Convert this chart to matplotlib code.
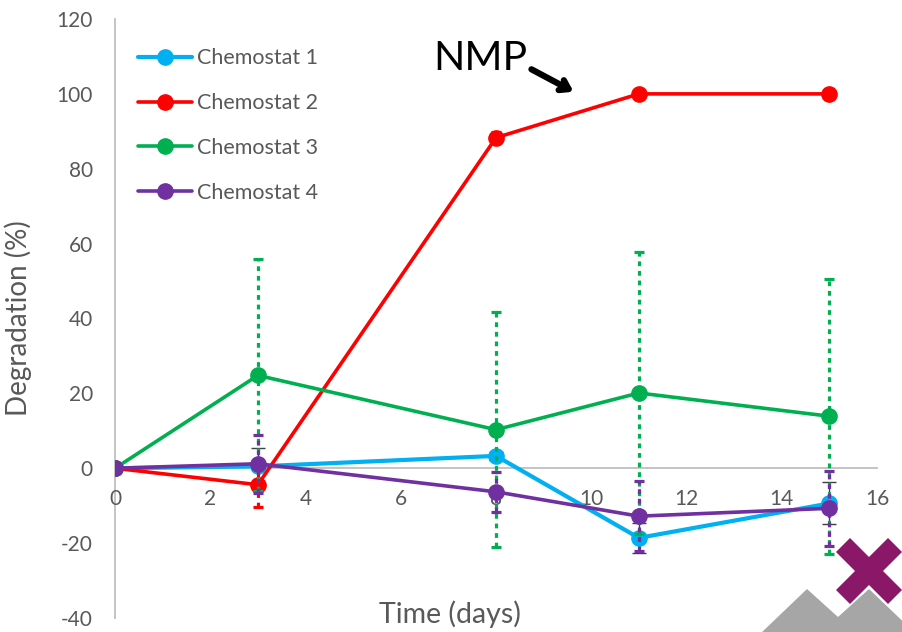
import matplotlib
matplotlib.use("Agg")
import matplotlib.pyplot as plt
from matplotlib.patches import Polygon
from matplotlib import patheffects as pe

plt.rcParams['font.family'] = ['Lato', 'DejaVu Sans']
plt.rcParams['axes.unicode_minus'] = False

# Sampling days
days = [0, 3, 8, 11, 15]

# Degradation (%) per chemostat
chemo1 = [0, 0.5, 3.3, -18.6, -9.4]
chemo2 = [0, -4.4, 88.3, 100, 100]
chemo3 = [0, 24.8, 10.3, 20.1, 13.9]
chemo4 = [0, 1.2, -6.3, -12.8, -10.7]

# Error (+/-) per chemostat
err1 = [0, 4.8, 1.0, 4.0, 5.6]
err2 = [0, 5.9, 1.5, 0, 0]
err3 = [0, 31.0, 31.4, 37.6, 36.7]
err4 = [0, 7.7, 5.3, 9.3, 10.0]

labels = ["Chemostat 1", "Chemostat 2", "Chemostat 3", "Chemostat 4"]
colors = ["#00B0F0", "#FF0000", "#00B050", "#7030A0"]

x_ticks = list(range(0, 17, 2))
y_ticks = list(range(-40, 121, 20))

W, H = 902, 632
fig = plt.figure(figsize=(W / 100, H / 100), dpi=100)
ax = fig.add_axes([115 / W, 1 - 618 / H, 762 / W, 599 / H])

series = [(chemo1, err1), (chemo2, err2), (chemo3, err3), (chemo4, err4)]
handles = []
for i, ((vals, errs), col, lab) in enumerate(zip(series, colors, labels)):
    z = 3 + i
    if i == 0:
        eb = ax.errorbar(days, vals, yerr=errs, fmt='none', ecolor='#404040',
                         elinewidth=1.0, capsize=5, capthick=1.0, zorder=z)
    else:
        eb = ax.errorbar(days, vals, yerr=errs, fmt='none', ecolor=col,
                         elinewidth=2.3, capsize=3.5, capthick=2.3, zorder=z)
        for lc in eb[2]:
            lc.set_linestyle((0, (1.5, 1.5)))
            lc.set_capstyle('butt')
    lw = 3.0 if i == 0 else 2.6
    ln, = ax.plot(days, vals, color=col, lw=lw, marker='o', ms=11,
                  label=lab, zorder=z + 0.5, solid_capstyle='round')
    handles.append(ln)

ax.set_xlim(0, 16)
ax.set_ylim(-40, 120)
ax.set_xticks(x_ticks)
ax.set_yticks(y_ticks)
ax.set_axisbelow(True)

for s in ['top', 'right']:
    ax.spines[s].set_visible(False)
ax.spines['bottom'].set_position(('data', 0))
for s in ['left', 'bottom']:
    ax.spines[s].set_color('#BFBFBF')
    ax.spines[s].set_linewidth(1.3)
    ax.spines[s].set_zorder(0.5)

ax.tick_params(axis='both', length=0, labelsize=15, labelcolor='#595959')
ax.tick_params(axis='y', pad=16)
ax.tick_params(axis='x', pad=15)

ax.set_ylabel("Degradation (%)", fontsize=20, color='#595959')
ax.yaxis.set_label_coords(-0.109, 0.5)
fig.text(450 / W, 1 - 614 / H, "Time (days)", fontsize=20.5, color='#595959',
         ha='center', va='center')

ax.legend(handles=handles, loc='upper left', bbox_to_anchor=(0.030, 0.951),
          frameon=False, fontsize=15.5, handlelength=2.5, handletextpad=0.25,
          labelspacing=1.15, borderpad=0, borderaxespad=0, labelcolor='#595959')

# NMP annotation with arrow
fig.text(433 / W, 1 - 70 / H, "NMP", fontsize=29.5, color='black',
         ha='left', va='baseline')
ax.annotate("", xy=(576 / W, 1 - 93 / H), xytext=(529 / W, 1 - 68 / H),
            xycoords='figure fraction', textcoords='figure fraction',
            arrowprops=dict(arrowstyle='->,head_length=0.6,head_width=0.4',
                            lw=4.5, color='black',
                            path_effects=[pe.withSimplePatchShadow(offset=(1.5, -2), alpha=0.35)]),
            zorder=10)

# Corner logo: purple cross behind grey peaks
def px(points):
    return [(x / W, 1 - y / H) for x, y in points]

cx, cy, a, t = 869, 571, 33, 14
cross = [(cx - a + t, cy - a), (cx, cy - t), (cx + a - t, cy - a), (cx + a, cy - a + t),
         (cx + t, cy), (cx + a, cy + a - t), (cx + a - t, cy + a), (cx, cy + t),
         (cx - a + t, cy + a), (cx - a, cy + a - t), (cx - t, cy), (cx - a, cy - a + t)]
fig.patches.append(Polygon(px(cross), closed=True, transform=fig.transFigure,
                           facecolor='#8B1769', edgecolor='none', zorder=20))
peaks = [(760, 634), (807, 589), (838, 617), (869, 589), (914, 632), (914, 640), (760, 640)]
fig.patches.append(Polygon(px(peaks), closed=True, transform=fig.transFigure,
                           facecolor='#A6A6A6', edgecolor='none', zorder=21))

fig.savefig("out.png", dpi=100)
